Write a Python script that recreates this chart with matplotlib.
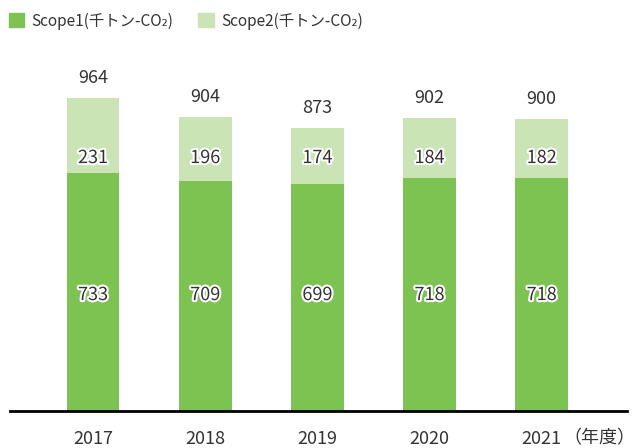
import matplotlib
matplotlib.use("Agg")
import matplotlib.pyplot as plt
import matplotlib.patheffects as pe
from matplotlib.patches import Patch
import numpy as np

plt.rcParams['font.family'] = ['Noto Sans CJK JP', 'DejaVu Sans']

years = ["2017", "2018", "2019", "2020", "2021"]
scope1 = [733, 709, 699, 718, 718]
scope2 = [231, 196, 174, 184, 182]
totals = [964, 904, 873, 902, 900]

c1 = "#7DC352"
c2 = "#CAE4B5"
tc = "#333333"
fs = 13

fig = plt.figure(figsize=(6.37, 4.48), dpi=100)
ax = fig.add_axes([10/637, 37/448, 617/637, (411-60)/448])

x = np.arange(len(years))
w = 0.47
ax.bar(x, scope1, width=w, color=c1, zorder=2)
ax.bar(x, scope2, width=w, bottom=scope1, color=c2, zorder=2)

ax.set_xlim(-0.74, 4.76)
ax.set_ylim(0, (411-60)/0.3247)

stroke = [pe.withStroke(linewidth=3, foreground="white")]
for i in range(len(years)):
    ax.text(x[i], 357, str(scope1[i]), ha='center', va='center', fontsize=fs,
            color=tc, path_effects=stroke, zorder=3)
    ax.text(x[i], 779, str(scope2[i]), ha='center', va='center', fontsize=fs,
            color=tc, path_effects=stroke, zorder=3)
    ax.annotate(str(totals[i]), (x[i], scope1[i] + scope2[i]), xytext=(0, 20),
                textcoords='offset pixels', ha='center', va='center',
                fontsize=fs, color=tc)

for s in ['top', 'right', 'left']:
    ax.spines[s].set_visible(False)
ax.spines['bottom'].set_linewidth(2)
ax.spines['bottom'].set_color('black')
ax.set_yticks([])
ax.set_xticks(x)
ax.set_xticklabels(years, fontsize=fs, color=tc)
ax.tick_params(axis='x', length=0, pad=14)
ax.annotate("（年度）", (x[-1], 0), xytext=(22, -27), textcoords='offset pixels',
            ha='left', va='center', fontsize=fs, color=tc)

handles = [Patch(color=c1, label="Scope1(千トン-CO₂)"),
           Patch(color=c2, label="Scope2(千トン-CO₂)")]
fig.legend(handles=handles, loc='upper left', bbox_to_anchor=(-0.006, 1.0), ncol=2,
           frameon=False, fontsize=11.1, handlelength=1.0, handleheight=1.0,
           handletextpad=0.5, columnspacing=1.6, labelcolor=tc,
           borderaxespad=0.4)

fig.savefig("out.png", dpi=100)
